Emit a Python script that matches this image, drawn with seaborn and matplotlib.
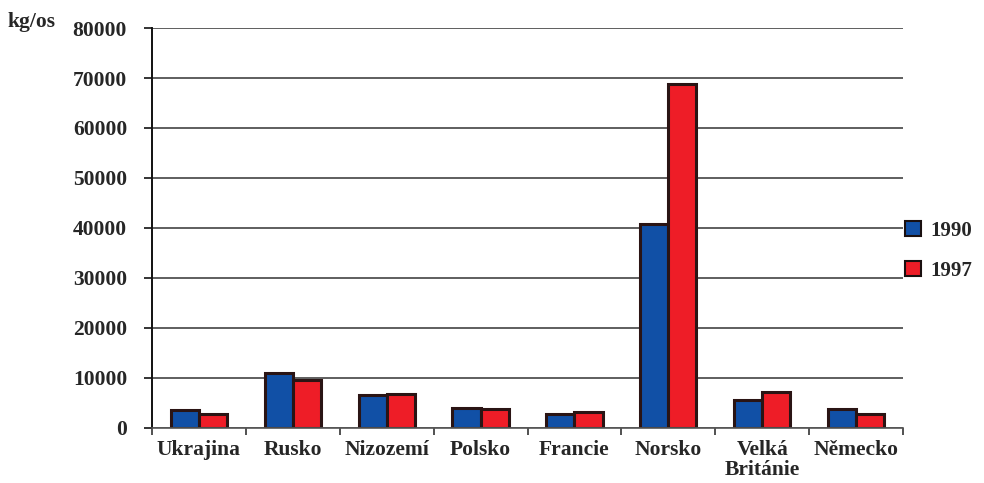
import matplotlib
matplotlib.use("Agg")
import matplotlib.pyplot as plt
from matplotlib.patches import Rectangle
import seaborn as sns
import pandas as pd
import numpy as np

countries = ["Ukrajina", "Rusko", "Nizozemí", "Polsko", "Francie", "Norsko",
             "Velká\nBritánie", "Německo"]
values_1990 = [3600, 11000, 6600, 4000, 2800, 40800, 5600, 3800]
values_1997 = [2800, 9600, 6800, 3800, 3200, 68800, 7200, 2800]
years = ["1990", "1997"]
colors = ["#1150a6", "#ee1d27"]
yticks = [0, 10000, 20000, 30000, 40000, 50000, 60000, 70000, 80000]

df = pd.DataFrame({
    "country": countries * 2,
    "year": [years[0]] * len(countries) + [years[1]] * len(countries),
    "value": values_1990 + values_1997,
})

sns.set_theme(style="white")
plt.rcParams["font.family"] = ["Liberation Serif", "DejaVu Serif"]
plt.rcParams["font.weight"] = "bold"

FS = 15.5

fig = plt.figure(figsize=(9.84, 4.83), dpi=100)
ax = fig.add_axes([0.1545, 0.114, 0.7632, 0.828])

sns.barplot(data=df, x="country", y="value", hue="year", palette=colors,
            width=0.6, edgecolor="#2a1414", linewidth=2.2, saturation=1,
            legend=False, ax=ax)

ax.set_ylim(0, 80000)
ax.set_xlim(-0.5, len(countries) - 0.5)
ax.set_yticks(yticks)
ax.set_yticklabels([str(v) for v in yticks], fontsize=FS, fontweight="bold")
ax.yaxis.grid(True, color="#333333", linewidth=1.1)
ax.set_axisbelow(True)

ax.set_xticks(range(len(countries)))
ax.set_xticklabels(countries, fontsize=FS, fontweight="bold", linespacing=1.0)
ax.tick_params(axis="x", which="major", length=0, pad=9)
ax.set_xticks(np.arange(-0.5, len(countries), 1.0), minor=True)
ax.tick_params(axis="x", which="minor", length=5, width=1.2, color="#333333",
               direction="out", bottom=True)
ax.tick_params(axis="y", length=6, width=1.2, color="#111111", left=True,
               direction="out", pad=12)

ax.set_xlabel("")
ax.set_ylabel("")
for side in ["top", "right"]:
    ax.spines[side].set_visible(False)
ax.spines["left"].set_color("#111111")
ax.spines["left"].set_linewidth(1.4)
ax.spines["bottom"].set_color("#555555")
ax.spines["bottom"].set_linewidth(1.2)

fig.text(0.008, 0.955, "kg/os", fontsize=FS, fontweight="bold",
         ha="left", va="center")

handles = [Rectangle((0, 0), 1, 1, facecolor=c, edgecolor="#1a1010", linewidth=1.5)
           for c in colors]
fig.legend(handles, years, loc="center left", bbox_to_anchor=(0.920, 0.481),
           frameon=False, handlelength=0.75, handleheight=0.75,
           handletextpad=0.45, labelspacing=0.95, borderpad=0,
           borderaxespad=0, prop={"weight": "bold", "size": 15})

fig.savefig("out.png", dpi=100)
